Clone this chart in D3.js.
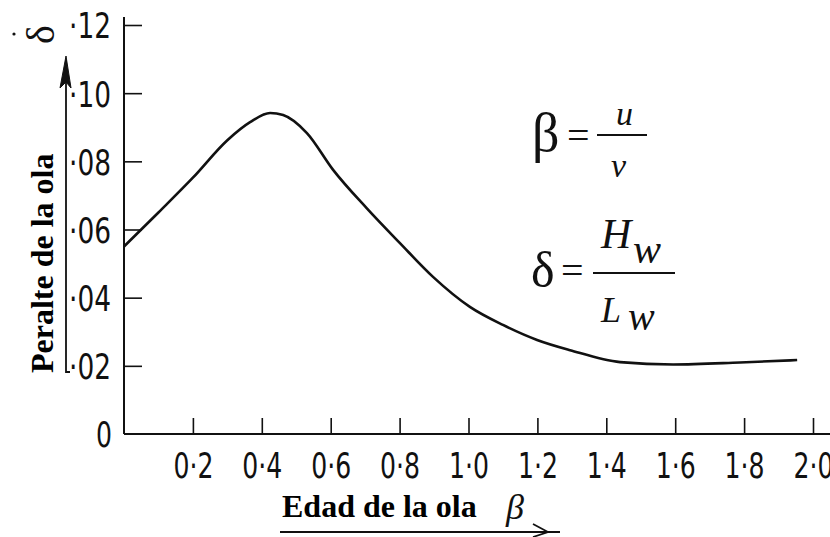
<!DOCTYPE html>
<html>
<head>
<meta charset="utf-8">
<script src="https://cdn.jsdelivr.net/npm/d3@7"></script>
<style>
  html, body { margin: 0; padding: 0; background: #fff; }
  svg { display: block; }
</style>
</head>
<body>
<svg id="chart" width="830" height="537"></svg>
<script>
// ---- data ----
const betaValues  = [0, 0.1, 0.2, 0.3, 0.366, 0.424, 0.462, 0.531, 0.607, 0.705, 0.801, 0.897, 1.004, 1.100, 1.199, 1.295, 1.440, 1.594, 1.788, 1.954];
const deltaValues = [0.055, 0.065, 0.0752, 0.0862, 0.0915, 0.0942, 0.0936, 0.0883, 0.0775, 0.0662, 0.0560, 0.0461, 0.0373, 0.0320, 0.0276, 0.0246, 0.0211, 0.0204, 0.0210, 0.0217];
const xTickValues = [0.2, 0.4, 0.6, 0.8, 1.0, 1.2, 1.4, 1.6, 1.8, 2.0];
const xTickLabels = ["0·2", "0·4", "0·6", "0·8", "1·0", "1·2", "1·4", "1·6", "1·8", "2·0"];
const yTickValues = [0, 0.02, 0.04, 0.06, 0.08, 0.10, 0.12];
const yTickLabels = ["0", "·02", "·04", "·06", "·08", "·10", "·12"];
const xTitle = "Edad de la ola";
const yTitle = "Peralte de la ola";

const svg = d3.select("#chart");
const ink = "#111";
const tickFont = "'Liberation Sans Narrow', 'DejaVu Sans Condensed', 'Liberation Sans', sans-serif";
const serif = "'Liberation Serif', 'DejaVu Serif', serif";

const x = d3.scaleLinear().domain([0, 2.0]).range([124, 813]);
const y = d3.scaleLinear().domain([0, 0.12]).range([434, 25]);

svg.append("rect").attr("width", 830).attr("height", 537).attr("fill", "#fff");

// axes lines
svg.append("line").attr("x1", x(0)).attr("x2", 830).attr("y1", y(0)).attr("y2", y(0))
  .attr("stroke", ink).attr("stroke-width", 2);
svg.append("line").attr("x1", x(0)).attr("x2", x(0)).attr("y1", y(0)).attr("y2", 17)
  .attr("stroke", ink).attr("stroke-width", 2);

// x ticks (upward) and labels
const xAxis = d3.axisBottom(x).tickValues(xTickValues).tickSize(0)
  .tickFormat((d, i) => xTickLabels[i]);
const gx = svg.append("g").attr("transform", `translate(0,${y(0)})`).call(xAxis);
gx.select(".domain").remove();
gx.selectAll(".tick text")
  .attr("y", 44).attr("dy", null)
  .attr("font-family", tickFont).attr("font-size", 35).attr("fill", ink)
  .attr("textLength", 40).attr("lengthAdjust", "spacingAndGlyphs");
gx.selectAll(".tick").append("line")
  .attr("y1", 0).attr("y2", -16).attr("stroke", ink).attr("stroke-width", 1.6);

// y ticks (inward) and labels
const yAxis = d3.axisLeft(y).tickValues(yTickValues).tickSize(0)
  .tickFormat((d, i) => yTickLabels[i]);
const gy = svg.append("g").attr("transform", `translate(${x(0)},0)`).call(yAxis);
gy.select(".domain").remove();
gy.selectAll(".tick text")
  .attr("x", -13).attr("dy", "0.36em")
  .attr("font-family", tickFont).attr("font-size", 36).attr("fill", ink);
gy.selectAll(".tick text").filter(d => d > 0)
  .attr("textLength", 42).attr("lengthAdjust", "spacingAndGlyphs");
gy.selectAll(".tick text").filter(d => d === 0)
  .attr("textLength", 16).attr("lengthAdjust", "spacingAndGlyphs").attr("x", -12);
gy.selectAll(".tick").filter(d => d > 0).append("line")
  .attr("x1", 0).attr("x2", 18).attr("stroke", ink).attr("stroke-width", 1.6);

// curve
const pts = betaValues.map((b, i) => [b, deltaValues[i]]);
svg.append("path").datum(pts)
  .attr("d", d3.line().x(d => x(d[0])).y(d => y(d[1])).curve(d3.curveMonotoneX))
  .attr("fill", "none").attr("stroke", ink).attr("stroke-width", 2.6)
  .attr("stroke-linejoin", "round");

// axis titles
svg.append("text").text(xTitle)
  .attr("x", 282).attr("y", 517)
  .attr("font-family", serif).attr("font-weight", "bold").attr("font-size", 32).attr("fill", "#000");
svg.append("text").text(yTitle)
  .attr("transform", "translate(53,373) rotate(-90)")
  .attr("font-family", serif).attr("font-weight", "bold").attr("font-size", 32).attr("fill", "#000");

// hand-drawn x arrow with beta
svg.append("line").attr("x1", 280).attr("x2", 560).attr("y1", 532).attr("y2", 532)
  .attr("stroke", ink).attr("stroke-width", 2);
svg.append("path").attr("d", "M533,524 L548,532 L533,537")
  .attr("fill", "none").attr("stroke", ink).attr("stroke-width", 1.8);
svg.append("text").text("β")
  .attr("x", 506).attr("y", 519)
  .attr("font-family", serif).attr("font-style", "italic").attr("font-size", 36).attr("fill", ink);

// hand-drawn y arrow with delta
svg.append("path").attr("d", "M70,372 L66,372 L66,60")
  .attr("fill", "none").attr("stroke", ink).attr("stroke-width", 1.8);
svg.append("path").attr("d", "M66,56 L60,88 L66,82 L71,88 Z")
  .attr("fill", ink).attr("stroke", ink).attr("stroke-width", 1);
svg.append("text").text("δ")
  .attr("transform", "translate(54,44) rotate(-90)")
  .attr("font-family", serif).attr("font-size", 40).attr("fill", ink);
svg.append("circle").attr("cx", 14).attr("cy", 34).attr("r", 1.6).attr("fill", ink);

// formulas
function t(txt, px, py, size, italic) {
  svg.append("text").text(txt).attr("x", px).attr("y", py)
    .attr("font-family", serif).attr("font-size", size)
    .attr("font-style", italic ? "italic" : "normal").attr("fill", ink);
}
function bar(x1, x2, yy) {
  svg.append("line").attr("x1", x1).attr("x2", x2).attr("y1", yy).attr("y2", yy)
    .attr("stroke", ink).attr("stroke-width", 2);
}
t("β", 532, 151, 54, false);
t("=", 567, 149, 40, false);
bar(597, 647, 135);
t("u", 616, 125, 34, true);
t("v", 611, 177, 34, true);

t("δ", 531, 287, 50, false);
t("=", 561, 284, 40, false);
bar(593, 675, 273);
t("H", 601, 248, 42, true);
t("w", 633, 263, 42, true);
t("L", 601, 322, 36, true);
t("w", 628, 330, 40, true);
</script>
</body>
</html>
